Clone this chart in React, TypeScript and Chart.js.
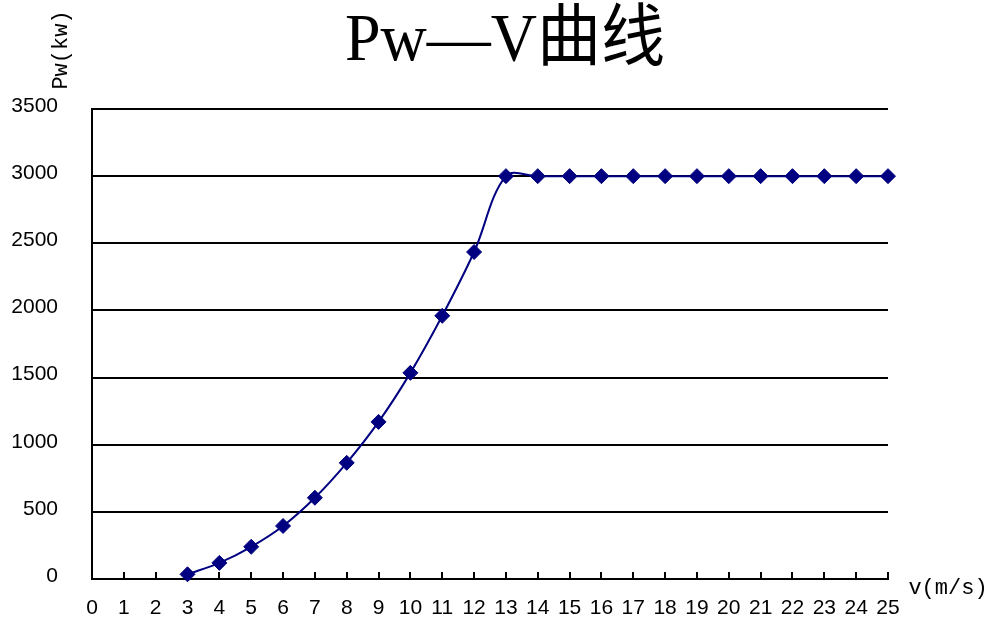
import React, { useEffect, useRef } from "react";
import { Chart, registerables } from "chart.js";

Chart.register(...registerables);

const TITLE = "Pw—V曲线";
const Y_TITLE = "Pw(kw)";
const X_TITLE = "v(m/s)";

const windSpeeds = [3, 4, 5, 6, 7, 8, 9, 10, 11, 12, 13, 14, 15, 16, 17, 18, 19, 20, 21, 22, 23, 24, 25];
const powerKw = [35, 120, 240, 395, 605, 865, 1170, 1535, 1960, 2435, 3000, 3000, 3000, 3000, 3000, 3000, 3000, 3000, 3000, 3000, 3000, 3000, 3000];

const X_MIN = 0;
const X_MAX = 25;
const X_STEP = 1;
const Y_MIN = 0;
const Y_MAX = 3500;
const Y_STEP = 500;

const NAVY = "#000080";

export default function App() {
  const ref = useRef<HTMLCanvasElement | null>(null);

  useEffect(() => {
    const canvas = ref.current;
    if (!canvas) return;

    const decor = {
      id: "decor",
      beforeDatasetsDraw(chart: any) {
        const ctx = chart.ctx;
        const xs = chart.scales.x;
        const area = chart.chartArea;
        ctx.save();
        ctx.strokeStyle = "#000";
        ctx.lineWidth = 2;
        for (let v = X_MIN + X_STEP; v <= X_MAX; v += X_STEP) {
          const px = Math.round(xs.getPixelForValue(v));
          ctx.beginPath();
          ctx.moveTo(px, area.bottom);
          ctx.lineTo(px, area.bottom - 7);
          ctx.stroke();
        }
        ctx.restore();
      },
      afterDraw(chart: any) {
        const ctx = chart.ctx;
        ctx.save();
        ctx.fillStyle = "#000";
        ctx.textAlign = "center";
        ctx.textBaseline = "alphabetic";
        ctx.font = '68px "Liberation Serif", "Noto Sans CJK SC", serif';
        ctx.fillText(TITLE, 505, 60, 320);

        ctx.font = '22px "Liberation Mono", monospace';
        ctx.textBaseline = "middle";
        ctx.fillText(X_TITLE, 948, 588);

        ctx.translate(61, 50);
        ctx.rotate(-Math.PI / 2);
        ctx.fillText(Y_TITLE, 0, 0);
        ctx.restore();
      },
    };

    const chart = new Chart(canvas, {
      type: "line",
      data: {
        datasets: [
          {
            data: windSpeeds.map((s, i) => ({ x: s, y: powerKw[i] })),
            borderColor: NAVY,
            backgroundColor: NAVY,
            borderWidth: 2,
            tension: 0.35,
            pointStyle: "rectRot",
            pointRadius: 7.5,
            pointBorderWidth: 1,
            pointBackgroundColor: NAVY,
            pointBorderColor: NAVY,
            fill: false,
            clip: false as any,
          },
        ],
      },
      options: {
        responsive: false,
        animation: false,
        layout: { padding: { top: 109, right: 109, left: 0, bottom: 0 } },
        plugins: {
          legend: { display: false },
          title: { display: false },
          tooltip: { enabled: false },
        },
        scales: {
          x: {
            type: "linear",
            min: X_MIN,
            max: X_MAX,
            grid: { display: false, drawTicks: false },
            border: { display: true, color: "#000", width: 2 },
            ticks: {
              stepSize: X_STEP,
              autoSkip: false,
              maxRotation: 0,
              padding: 17,
              color: "#000",
              font: { family: '"Liberation Sans", Arial, sans-serif', size: 21 },
              callback: (v: any) => String(v),
            },
            afterFit(scale: any) {
              scale.height = 49;
            },
          },
          y: {
            type: "linear",
            min: Y_MIN,
            max: Y_MAX,
            grid: { display: true, color: "#000", lineWidth: 2, drawTicks: false },
            border: { display: true, color: "#000", width: 2 },
            ticks: {
              stepSize: Y_STEP,
              padding: 34,
              labelOffset: -3,
              color: "#000",
              font: { family: '"Liberation Sans", Arial, sans-serif', size: 21 },
              callback: (v: any) => String(v),
            },
            afterFit(scale: any) {
              scale.width = 92;
            },
          },
        },
      },
      plugins: [decor],
    });

    return () => chart.destroy();
  }, []);

  return (
    <div style={{ position: "absolute", left: 0, top: 0, width: 997, height: 628, background: "#fff" }}>
      <canvas ref={ref} width={997} height={628} style={{ display: "block" }} />
    </div>
  );
}
